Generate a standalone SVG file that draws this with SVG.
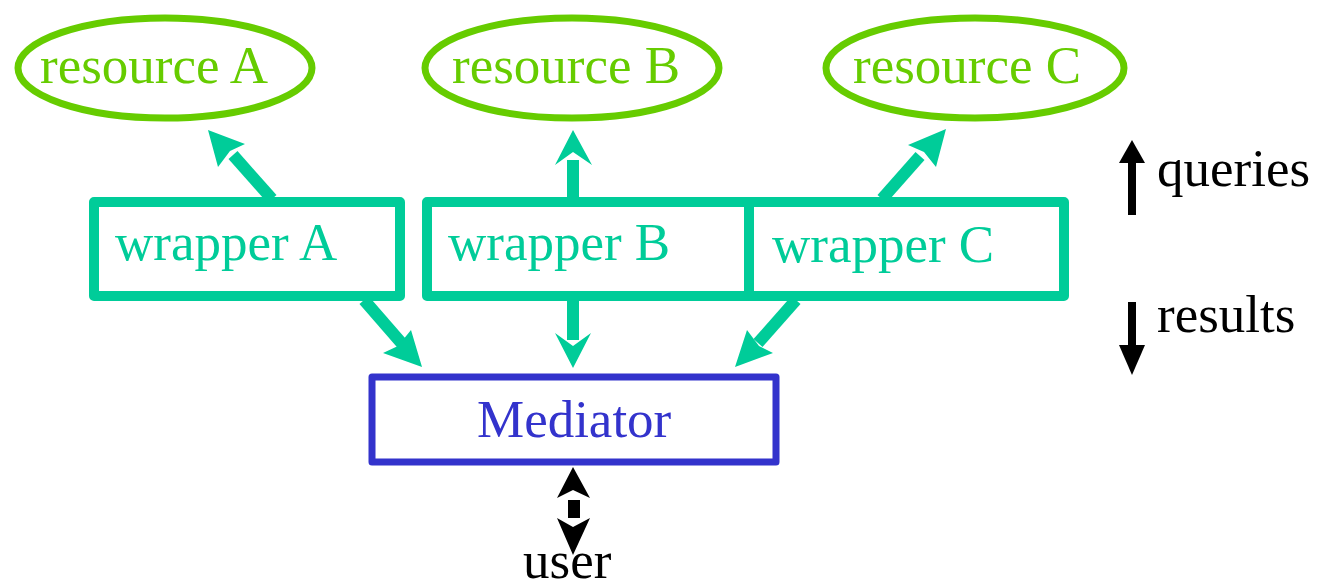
<svg xmlns="http://www.w3.org/2000/svg" width="1329" height="581" viewBox="0 0 1329 581">
<style>
.res{fill:none;stroke:#66cc00;stroke-width:7}
.rt{fill:#66cc00;font-family:"Liberation Serif",serif;font-size:53px}
.wr{fill:none;stroke:#00cc99;stroke-width:10;stroke-linejoin:round}
.wt{fill:#00cc99;font-family:"Liberation Serif",serif;font-size:53px}
.med{fill:none;stroke:#3333cc;stroke-width:7;stroke-linejoin:round}
.mt{fill:#3333cc;font-family:"Liberation Serif",serif;font-size:53px}
.kt{fill:#000;font-family:"Liberation Serif",serif;font-size:53px}
.ln{stroke:#00cc99;stroke-width:12;fill:none}
.hd{fill:#00cc99}
</style>
<g id="resourceA"><ellipse class="res" cx="165" cy="68" rx="147" ry="50"/><text class="rt" x="40" y="83">resource A</text></g>
<g id="resourceB"><ellipse class="res" cx="572" cy="68" rx="147" ry="50"/><text class="rt" x="452" y="83">resource B</text></g>
<g id="resourceC"><ellipse class="res" cx="975" cy="68" rx="149" ry="50"/><text class="rt" x="853" y="83">resource C</text></g>
<g id="wrapperA"><rect class="wr" x="94" y="202" width="306" height="94"/><text class="wt" x="115" y="260">wrapper A</text></g>
<g id="wrapperB"><rect class="wr" x="427" y="202" width="322" height="94"/><text class="wt" x="448" y="260">wrapper B</text></g>
<g id="wrapperC"><rect class="wr" x="749" y="202" width="315" height="94"/><text class="wt" x="772" y="262">wrapper C</text></g>
<g id="mediator"><rect class="med" x="372" y="377" width="404" height="85"/><text class="mt" x="477" y="437">Mediator</text></g>
<g id="user"><text class="kt" x="523" y="578">user</text></g>
<g id="legend">
<rect x="1128" y="160" width="8" height="55" fill="#000"/>
<polygon points="1132,140 1145,163 1119,163" fill="#000"/>
<text class="kt" x="1157" y="186">queries</text>
<rect x="1128" y="302" width="8" height="48" fill="#000"/>
<polygon points="1132,375 1145,345 1119,345" fill="#000"/>
<text class="kt" x="1157" y="332">results</text>
</g>
<g id="connectors">
<line class="ln" x1="272" y1="199" x2="233" y2="155"/>
<polygon class="hd" points="208,130 245,144 230,151 218,167"/>
<line class="ln" x1="573" y1="199" x2="573" y2="160"/>
<polygon class="hd" points="573,130 592,165 573,152 555,165"/>
<line class="ln" x1="882" y1="199" x2="920" y2="156"/>
<polygon class="hd" points="946,129 936,167 924,152 908,145"/>
<line class="ln" x1="364" y1="300" x2="404" y2="346"/>
<polygon class="hd" points="422,367 383,353 398,346 411,330"/>
<line class="ln" x1="573" y1="300" x2="573" y2="340"/>
<polygon class="hd" points="573,368 591,333 573,346 555,333"/>
<line class="ln" x1="796" y1="300" x2="758" y2="343"/>
<polygon class="hd" points="735,367 747,330 759,346 773,353"/>
<polygon points="573,467 590,498 573,490 557,498" fill="#000"/>
<rect x="568" y="500" width="12" height="18" fill="#000"/>
<polygon points="573,555 590,518 573,527 557,518" fill="#000"/>
</g>
</svg>
